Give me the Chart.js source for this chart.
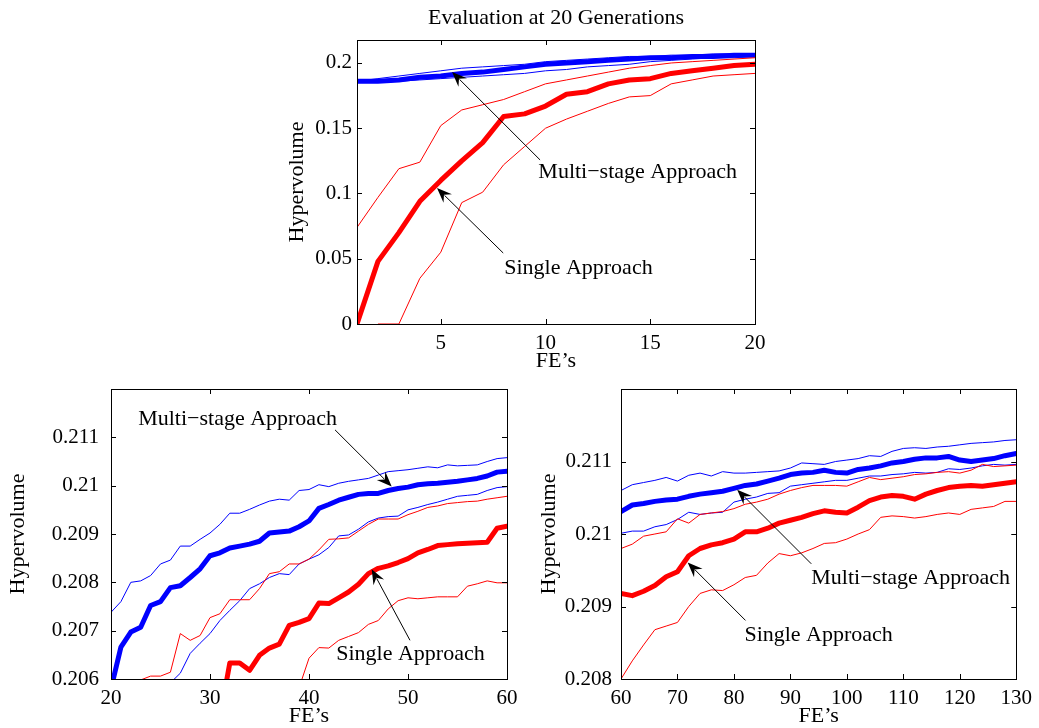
<!DOCTYPE html>
<html>
<head>
<meta charset="utf-8">
<script src="https://cdn.jsdelivr.net/npm/chart.js@4.4.1/dist/chart.umd.min.js"></script>
<style>
body { margin:0; background:#fff; width:1039px; height:728px; position:relative; overflow:hidden; }
canvas { position:absolute; }
</style>
</head>
<body>
<canvas id="top_chart" width="520" height="380" style="left:260px;top:0px"></canvas>
<canvas id="left_chart" width="530" height="368" style="left:0px;top:360px"></canvas>
<canvas id="right_chart" width="509" height="368" style="left:530px;top:360px"></canvas>
<script>
// 20 generations
var topFE = [1,2,3,4,5,6,7,8,9,10,11,12,13,14,15,16,17,18,19,20];
var topMultiMean = [0.186,0.186,0.187,0.189,0.190,0.192,0.193,0.195,0.197,0.199,0.200,0.201,0.202,0.203,0.204,0.204,0.205,0.205,0.206,0.206];
var topMultiHigh = [0.186,0.188,0.190,0.192,0.194,0.196,0.197,0.198,0.199,0.201,0.202,0.203,0.204,0.205,0.205,0.206,0.206,0.207,0.207,0.207];
var topMultiLow = [0.185,0.185,0.186,0.187,0.188,0.189,0.190,0.191,0.192,0.194,0.195,0.197,0.198,0.199,0.201,0.202,0.203,0.204,0.204,0.205];
var topSingleMean = [0,0.048,0.070,0.094,0.110,0.125,0.139,0.159,0.161,0.167,0.176,0.178,0.184,0.187,0.188,0.192,0.194,0.196,0.198,0.199];
var topSingleHigh = [0.074,0.097,0.119,0.124,0.152,0.164,0.168,0.172,0.178,0.184,0.187,0.190,0.193,0.196,0.198,0.200,0.201,0.202,0.203,0.204];
var topSingleLow = [-0.04,0,0,0.035,0.055,0.093,0.101,0.122,0.136,0.150,0.157,0.163,0.169,0.174,0.175,0.184,0.187,0.190,0.191,0.192];
var topXTicks = [5,10,15,20];
var topYTicks = [0,0.05,0.1,0.15,0.2];
var topYLabels = ['0','0.05','0.1','0.15','0.2'];

// FE's 20 - 60
var leftFE = [20,21,22,23,24,25,26,27,28,29,30,31,32,33,34,35,36,37,38,39,40,41,42,43,44,45,46,47,48,49,50,51,52,53,54,55,56,57,58,59,60];
var leftMultiMean = [0.2058,0.20666,0.20697,0.20707,0.20752,0.20760,0.20789,0.20793,0.20810,0.20828,
	0.20855,0.20861,0.20871,0.20875,0.20879,0.20885,0.20902,0.20904,0.20906,0.20915,
	0.20927,0.20953,0.20961,0.20970,0.20976,0.20982,0.20984,0.20984,0.20990,0.20994,
	0.20997,0.21002,0.21004,0.21005,0.21007,0.21009,0.21012,0.21015,0.21020,0.21028,
	0.21030];
var leftMultiHigh = [0.20738,0.20760,0.20800,0.20803,0.20814,0.20838,0.20846,0.20875,0.20875,0.20889,
	0.20902,0.20920,0.20943,0.20943,0.20951,0.20960,0.20968,0.20972,0.20970,0.20990,
	0.20992,0.21002,0.20998,0.21005,0.21009,0.21012,0.21015,0.21022,0.21029,0.21031,
	0.21033,0.21036,0.21039,0.21037,0.21043,0.21041,0.21042,0.21043,0.21050,0.21056,
	0.21058];
var leftMultiLow = [null,null,null,null,null,null,0.20592,0.20612,0.20653,0.20674,
	0.20694,0.20721,0.20742,0.20762,0.20787,0.20797,0.20810,0.20818,0.20816,0.20838,
	0.20848,0.20857,0.20872,0.20896,0.20898,0.20910,0.20925,0.20933,0.20936,0.20937,
	0.20950,0.20955,0.20961,0.20966,0.20972,0.20978,0.20980,0.20982,0.20990,0.20996,
	0.20998];
var leftSingleMean = [null,null,null,null,null,null,null,null,null,null,
	null,0.2052,0.20633,0.20633,0.20618,0.20649,0.20664,0.20672,0.20711,0.20717,
	0.20725,0.20757,0.20756,0.20768,0.20780,0.20796,0.20818,0.20829,0.20834,0.20841,
	0.20849,0.20861,0.20868,0.20876,0.20878,0.20880,0.20881,0.20882,0.20883,0.20912,
	0.20916];
var leftSingleHigh = [null,null,null,0.20598,0.20606,0.20606,0.20614,0.20694,0.20680,0.20690,
	0.20727,0.20735,0.20764,0.20764,0.20764,0.20787,0.20818,0.20822,0.20838,0.20838,
	0.20848,0.20867,0.20889,0.20890,0.20892,0.20906,0.20920,0.20931,0.20931,0.20931,
	0.20940,0.20947,0.20955,0.20958,0.20963,0.20965,0.20967,0.20968,0.20972,0.20975,
	0.20978];
var leftSingleLow = [null,null,null,null,null,null,null,null,null,null,
	null,null,null,null,null,null,null,null,null,0.20582,
	0.20643,0.20665,0.20664,0.20680,0.20688,0.20696,0.20713,0.20721,0.20745,0.20762,
	0.20768,0.20766,0.20768,0.20770,0.20770,0.20770,0.20792,0.20797,0.20803,0.20799,
	0.20799];
var leftXTicks = [20,30,40,50,60];
var leftYTicks = [0.206,0.207,0.208,0.209,0.21,0.211];
var leftYLabels = ['0.206','0.207','0.208','0.209','0.21','0.211'];

// FE's 60 - 130
var rightFE = [60,62,64,66,68,70,72,74,76,78,80,82,84,86,88,90,92,94,96,98,100,102,104,106,108,110,112,114,116,118,120,122,124,126,128,130];
var rightMultiMean = [0.21031,0.21040,0.21042,0.21045,0.21047,0.21048,0.21052,0.21055,0.21057,0.21059,
	0.21063,0.21067,0.21069,0.21073,0.21077,0.21082,0.21084,0.21085,0.21088,0.21085,
	0.21084,0.21089,0.21091,0.21094,0.21098,0.21100,0.21103,0.21105,0.21105,0.21107,
	0.21102,0.21100,0.21102,0.21104,0.21108,0.21111];
var rightMultiHigh = [0.21060,0.21068,0.21071,0.21074,0.21078,0.21073,0.21081,0.21084,0.21080,0.21086,
	0.21084,0.21084,0.21085,0.21086,0.21087,0.21091,0.21098,0.21097,0.21096,0.21100,
	0.21102,0.21104,0.21108,0.21107,0.21114,0.21118,0.21119,0.21118,0.21120,0.21121,
	0.21123,0.21125,0.21126,0.21127,0.21129,0.21130];
var rightMultiLow = [0.21001,0.21004,0.21004,0.21010,0.21013,0.21020,0.21030,0.21027,0.21029,0.21030,
	0.21044,0.21048,0.21051,0.21056,0.21057,0.21066,0.21068,0.21070,0.21072,0.21074,
	0.21074,0.21077,0.21080,0.21080,0.21082,0.21083,0.21085,0.21084,0.21085,0.21090,
	0.21089,0.21091,0.21094,0.21096,0.21095,0.21096];
var rightSingleMean = [0.20918,0.20915,0.20921,0.20929,0.20941,0.20948,0.20970,0.20980,0.20985,0.20988,
	0.20993,0.21003,0.21003,0.21008,0.21015,0.21019,0.21023,0.21028,0.21032,0.21030,
	0.21029,0.21037,0.21046,0.21051,0.21053,0.21052,0.21048,0.21055,0.21060,0.21064,
	0.21066,0.21067,0.21066,0.21068,0.21070,0.21072];
var rightSingleHigh = [0.20980,0.20986,0.20997,0.21000,0.21003,0.21021,0.21015,0.21027,0.21029,0.21031,
	0.21035,0.21041,0.21044,0.21048,0.21055,0.21060,0.21064,0.21067,0.21067,0.21067,
	0.21066,0.21072,0.21078,0.21075,0.21077,0.21079,0.21082,0.21083,0.21085,0.21086,
	0.21084,0.21088,0.21096,0.21093,0.21094,0.21095];
var rightSingleLow = [0.20800,0.20825,0.20847,0.20868,0.20873,0.20878,0.20900,0.20918,0.20923,0.20922,
	0.20930,0.20940,0.20943,0.20960,0.20973,0.20970,0.20974,0.20980,0.20987,0.20988,
	0.20993,0.21000,0.21006,0.21023,0.21025,0.21024,0.21022,0.21024,0.21027,0.21029,
	0.21027,0.21034,0.21036,0.21038,0.21045,0.21045];
var rightXTicks = [60,70,80,90,100,110,120,130];
var rightYTicks = [0.208,0.209,0.21,0.211];
var rightYLabels = ['0.208','0.209','0.21','0.211'];

var FONT = '"Liberation Serif", "Times New Roman", serif';
var BLUE = '#0000ff', RED = '#ff0000';

function pts(xs, ys) {
	var out = [];
	for (var i = 0; i < xs.length; i++) out.push({x: xs[i], y: ys[i]});
	return out;
}

function lineSet(xs, ys, color, w) {
	return { data: pts(xs, ys), borderColor: color, borderWidth: w, pointRadius: 0,
		tension: 0, fill: false, clip: 0, spanGaps: false, borderJoinStyle: 'round', borderCapStyle: 'round' };
}

// matlab style box with inward ticks
var boxPlugin = {
	id: 'matlabBox',
	afterDatasetsDraw: function(chart) {
		var ctx = chart.ctx, a = chart.chartArea;
		var xs = chart.scales.x, ys = chart.scales.y;
		ctx.save();
		ctx.strokeStyle = '#000';
		ctx.lineWidth = 1;
		ctx.beginPath();
		xs.ticks.forEach(function(t) {
			var px = Math.round(xs.getPixelForValue(t.value)) + 0.5;
			ctx.moveTo(px, a.bottom); ctx.lineTo(px, a.bottom - 5);
			ctx.moveTo(px, a.top); ctx.lineTo(px, a.top + 5);
		});
		ys.ticks.forEach(function(t) {
			var py = Math.round(ys.getPixelForValue(t.value)) + 0.5;
			ctx.moveTo(a.left, py); ctx.lineTo(a.left + 5, py);
			ctx.moveTo(a.right, py); ctx.lineTo(a.right - 5, py);
		});
		ctx.stroke();
		ctx.strokeRect(Math.round(a.left) + 0.5, Math.round(a.top) + 0.5, Math.round(a.right - a.left), Math.round(a.bottom - a.top));
		ctx.restore();
	}
};

// text notes with arrows
var notesPlugin = {
	id: 'notes',
	afterDraw: function(chart, args, opts) {
		var ctx = chart.ctx, xs = chart.scales.x, ys = chart.scales.y;
		ctx.save();
		ctx.fillStyle = '#000';
		ctx.strokeStyle = '#000';
		ctx.font = '22px ' + FONT;
		ctx.textAlign = 'center';
		ctx.textBaseline = 'middle';
		(opts.items || []).forEach(function(n) {
			ctx.fillText(n.text, xs.getPixelForValue(n.tx), ys.getPixelForValue(n.ty));
			var x0 = xs.getPixelForValue(n.from[0]), y0 = ys.getPixelForValue(n.from[1]);
			var x1 = xs.getPixelForValue(n.to[0]), y1 = ys.getPixelForValue(n.to[1]);
			var dx = x0 - x1, dy = y0 - y1, len = Math.sqrt(dx*dx + dy*dy);
			var ux = dx / len, uy = dy / len, nx = -uy, ny = ux;
			var L = 15, W = 6;
			ctx.lineWidth = 1;
			ctx.beginPath();
			ctx.moveTo(x0, y0);
			ctx.lineTo(x1 + ux*L*0.7, y1 + uy*L*0.7);
			ctx.stroke();
			ctx.beginPath();
			ctx.moveTo(x1, y1);
			ctx.lineTo(x1 + ux*L + nx*W, y1 + uy*L + ny*W);
			ctx.lineTo(x1 + ux*L*0.65, y1 + uy*L*0.65);
			ctx.lineTo(x1 + ux*L - nx*W, y1 + uy*L - ny*W);
			ctx.closePath();
			ctx.fill();
		});
		if (opts.title) {
			var a = chart.chartArea;
			ctx.fillText(opts.title, (a.left + a.right) / 2, opts.titleY);
		}
		ctx.restore();
	}
};

function makeChart(id, fe, series, cfg) {
	var sets = [
		lineSet(fe, series.singleMean, RED, 5),
		lineSet(fe, series.singleHigh, RED, 1),
		lineSet(fe, series.singleLow, RED, 1),
		lineSet(fe, series.multiMean, BLUE, 5),
		lineSet(fe, series.multiHigh, BLUE, 1),
		lineSet(fe, series.multiLow, BLUE, 1)
	];
	return new Chart(document.getElementById(id), {
		type: 'line',
		data: { datasets: sets },
		options: {
			responsive: false,
			animation: false,
			events: [],
			layout: { padding: cfg.pad },
			plugins: {
				legend: { display: false },
				tooltip: { enabled: false },
				notes: { items: cfg.notes, title: cfg.title, titleY: cfg.titleY }
			},
			scales: {
				x: {
					type: 'linear', min: cfg.xMin, max: cfg.xMax,
					afterBuildTicks: function(s) { s.ticks = cfg.xTicks.map(function(v) { return {value: v}; }); },
					afterFit: function(s) { s.height = cfg.xH; },
					ticks: { color: '#000', font: { family: FONT, size: 21 }, padding: 7, maxRotation: 0, autoSkip: false,
						callback: function(v) { return String(v); } },
					grid: { display: false, drawTicks: false },
					border: { display: false },
					title: { display: true, text: 'FE\u2019s', color: '#000', font: { family: FONT, size: 22, lineHeight: 1 }, padding: 0 }
				},
				y: {
					type: 'linear', min: cfg.yMin, max: cfg.yMax,
					afterBuildTicks: function(s) { s.ticks = cfg.yTicks.map(function(v) { return {value: v}; }); },
					afterFit: function(s) { s.width = cfg.yW; },
					ticks: { color: '#000', font: { family: FONT, size: 21 }, padding: cfg.yPad, autoSkip: false,
						callback: function(v, i) { return cfg.yLabels[i]; } },
					grid: { display: false, drawTicks: false },
					border: { display: false },
					title: { display: true, text: 'Hypervolume', color: '#000', font: { family: FONT, size: 22, lineHeight: 1 }, padding: 0 }
				}
			}
		},
		plugins: [boxPlugin, notesPlugin]
	});
}

makeChart('top_chart', topFE, {
	multiMean: topMultiMean, multiHigh: topMultiHigh, multiLow: topMultiLow,
	singleMean: topSingleMean, singleHigh: topSingleHigh, singleLow: topSingleLow
}, {
	pad: { left: 26, right: 25, top: 40, bottom: 8 }, yW: 71, xH: 48, yPad: 5,
	xMin: 1, xMax: 20, yMin: 0, yMax: 0.2176,
	xTicks: topXTicks, yTicks: topYTicks, yLabels: topYLabels,
	title: 'Evaluation at 20 Generations', titleY: 18,
	notes: [
		{ text: 'Multi\u2212stage Approach', tx: 14.4, ty: 0.1165, from: [9.74, 0.1257], to: [5.54, 0.1931] },
		{ text: 'Single Approach', tx: 11.57, ty: 0.0429, from: [7.98, 0.0544], to: [4.82, 0.1042] }
	]
});

makeChart('left_chart', leftFE, {
	multiMean: leftMultiMean, multiHigh: leftMultiHigh, multiLow: leftMultiLow,
	singleMean: leftSingleMean, singleHigh: leftSingleHigh, singleLow: leftSingleLow
}, {
	pad: { left: 7, right: 23, top: 29, bottom: 1 }, yW: 104, xH: 48, yPad: 12,
	xMin: 20, xMax: 60, yMin: 0.206, yMax: 0.212,
	xTicks: leftXTicks, yTicks: leftYTicks, yLabels: leftYLabels,
	notes: [
		{ text: 'Multi\u2212stage Approach', tx: 32.78, ty: 0.21138, from: [42.63, 0.211154], to: [48.35, 0.209984] },
		{ text: 'Single Approach', tx: 50.25, ty: 0.206513, from: [50.2, 0.206801], to: [46.33, 0.208273] }
	]
});

makeChart('right_chart', rightFE, {
	multiMean: rightMultiMean, multiHigh: rightMultiHigh, multiLow: rightMultiLow,
	singleMean: rightSingleMean, singleHigh: rightSingleHigh, singleLow: rightSingleLow
}, {
	pad: { left: 8, right: 19, top: 29, bottom: 1 }, yW: 83, xH: 48, yPad: 9,
	xMin: 60, xMax: 130, yMin: 0.208, yMax: 0.212,
	xTicks: rightXTicks, yTicks: rightYTicks, yLabels: rightYLabels,
	notes: [
		{ text: 'Multi\u2212stage Approach', tx: 111.3, ty: 0.209384, from: [93.7, 0.209589], to: [80.58, 0.210612] },
		{ text: 'Single Approach', tx: 95, ty: 0.208603, from: [82.05, 0.208808], to: [71.81, 0.209607] }
	]
});
</script>
</body>
</html>
